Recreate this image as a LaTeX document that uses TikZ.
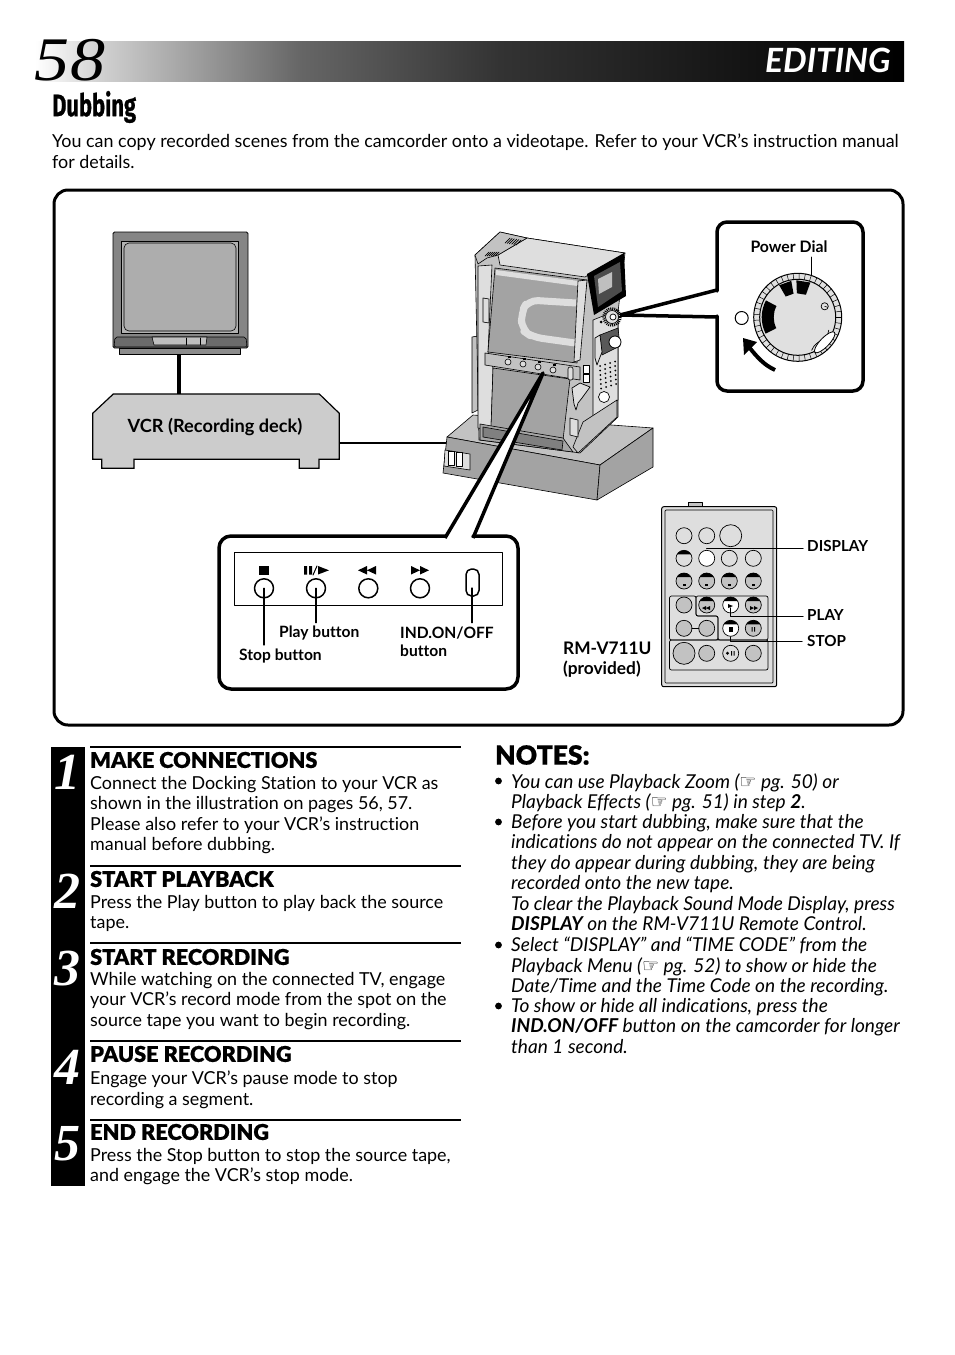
\documentclass[tikz,border=0pt]{standalone}
\usepackage{fontspec}
\setmainfont{Lato}[Ligatures=NoCommon]
\newfontfamily\headfont{Lato Black}[FakeBold=.6,Ligatures=NoCommon]
\newfontfamily\numfont{Liberation Serif}
\newfontfamily\dubfont{Fira Sans}[FakeBold=.8]
\newfontfamily\symfont{DejaVu Sans}
\pgfdeclarehorizontalshading{barshade}{100bp}{color(0bp)=(white); color(25bp)=(white); color(28.75bp)=(black!18); color(40.25bp)=(black!60); color(51.75bp)=(black!80); color(63.25bp)=(black!90); color(75bp)=(black); color(100bp)=(black)}
\colorlet{camlight}{black!13}
\colorlet{cammid}{black!24}
\colorlet{camdark}{black!36}
\newcommand{\btncap}[2]{\fill (#1-6.93,#2-4) arc (150:30:8pt)--cycle;}
\tikzset{
	bodytext/.style={anchor=north west,inner sep=0pt,align=left,font=\fontsize{17.9}{20.46}\selectfont},
	notetext/.style={bodytext,font=\fontsize{19.1}{20.46}\selectfont\itshape},
	headtext/.style={anchor=west,inner sep=0pt,font=\fontsize{21.7}{24}\headfont},
	numtext/.style={anchor=center,inner sep=0pt,text=white,font=\fontsize{52}{52}\numfont\bfseries\itshape},
	smalltext/.style={anchor=west,inner sep=0pt,align=left,font=\fontsize{15.6}{17.6}\selectfont\bfseries},
	thickline/.style={line width=3.5pt},
	cam/.style={draw,line width=.6pt,fill=#1},
	remotebtn/.style={draw,line width=.7pt,fill=#1}
}
\begin{document}
\begin{tikzpicture}[x=1pt,y=-1pt,line join=round,line cap=round]
	\useasboundingbox (0,0) rectangle (954,1355);
	\shade[shading=barshade] (35,41) rectangle (904,81);
	\node[anchor=center,inner sep=0pt,font=\fontsize{62}{62}\numfont\itshape] (pagenum) at (70,60) {\scalebox{1.13}[1]{58}};
	\node[anchor=east,inner sep=0pt,text=white,font=\fontsize{33.4}{36}\selectfont\itshape\bfseries] (editing) at (891,60) {EDITING};
	\node[anchor=west,inner sep=0pt,font=\fontsize{31}{33}\dubfont\bfseries] (dubbing) at (52,107) {\scalebox{.707}[1]{Dubbing}};
	\node[bodytext] (intro) at (52,134) {You can copy recorded scenes from the camcorder onto a videotape. Refer to your VCR’s instruction manual\\for details.};
	\draw[line width=3pt,rounded corners=14pt] (54,190) rectangle (903,725);
	\coordinate (TVcable) at (179,354);
	\coordinate (VCRtop) at (179,394);
	\coordinate (VCRright) at (339,443);
	\coordinate (Dockleft) at (447,443);
	\draw[line width=4.5pt,line cap=butt] (TVcable)--(VCRtop);
	\draw[line width=2.5pt,line cap=butt] (VCRright)--(Dockleft);
	\draw[line width=.8pt,fill=black!48,rounded corners=1.5pt] (113,232) rectangle (248,348);
	\draw[line width=.6pt,fill=black!30] (121,241) rectangle (238,333);
	\draw[line width=.6pt,fill=black!32,rounded corners=5pt] (124,243) rectangle (236,331);
	\draw[line width=.6pt,fill=black!58,rounded corners=2pt] (115,337)--(246,337)--(247,347)--(114,347)--cycle;
	\draw[line width=.6pt,fill=black!45] (119,348) rectangle (240,354);
	\draw[line width=.6pt,fill=black!25] (152,337)--(207,337)--(206,345)--(154,345)--cycle;
	\draw[line width=.6pt] (186,338)--(186,345) (200,338)--(200,345);
	\coordinate (VA) at (92.7,413.3);
	\coordinate (VB) at (113.3,394);
	\coordinate (VC) at (319.3,394);
	\coordinate (VD) at (339.3,413.3);
	\draw[line width=1.2pt,fill=black!20,line join=miter] (VA)--(VB)--(VC)--(VD)--(339.3,459.3)--(319,459.3)--(319,468.3)--(299.3,468.3)--(299.3,459.3)--(134,459.3)--(134,468.3)--(101.7,468.3)--(101.7,459.3)--(92.7,459.3)--cycle;
	\node[anchor=center,inner sep=0pt,font=\fontsize{18.2}{20}\selectfont\bfseries] (vcr) at (215,426.5) {VCR (Recording deck)};
	\coordinate (DA) at (447,437);
	\coordinate (DB) at (473,415);
	\coordinate (DC) at (653,428);
	\coordinate (DD) at (600,465);
	\coordinate (DE) at (443,473);
	\coordinate (DF) at (597,500);
	\coordinate (DG) at (653,467);
	\draw[cam=cammid] (DA)--(DB)--(DC)--(DD)--cycle;
	\draw[cam=camdark] (DA)--(DD)--(DF)--(DE)--cycle;
	\draw[cam=camdark] (DD)--(DC)--(DG)--(DF)--cycle;
	\draw[cam=camlight] (445,450)--(470,454)--(470,470)--(444,466)--cycle;
	\draw[line width=.5pt,fill=white] (448,451) rectangle (454,465) (456,452) rectangle (462,466);
	\draw[cam=cammid] (472,337)--(478,336)--(478,410)--(472,413)--cycle;
	\coordinate (CA) at (475,255);
	\coordinate (CB) at (500,232);
	\coordinate (CC) at (527,238);
	\coordinate (CD) at (625,253);
	\draw[cam=cammid] (CA)--(CB)--(CC)--(CD)--(618,312)--(618,417)--(580,453)--(573,452)--(479,440)--(476,300)--cycle;
	\draw[cam=camlight] (498,255)--(CC)--(CD)--(585,277)--(500,265)--cycle;
	\draw[cam=cammid] (CA)--(CB)--(CC)--(498,255)--(487,258)--(478,264)--cycle;
	\foreach \i in {0,...,5} \draw[line width=.7pt] (505+\i*2.2,243+\i*.4)--(510+\i*2.2,238+\i*.4);
	\foreach \i in {0,...,5} \draw[line width=.7pt] (485+\i*2,256)--(489+\i*2,252);
	\draw[cam=camlight] (478,266)--(492,265)--(488,352)--(493,368)--(491,430)--(478,428)--cycle;
	\draw[cam=camlight] (483,298)--(489,299)--(489,323)--(483,322)--cycle;
	\draw[cam=camdark] (495,268)--(587,280)--(577,363)--(488,352)--cycle;
	\fill[camlight] (496,270)--(586,282)--(585,287)--(496,275)--cycle;
	\draw[camlight,line width=7pt,line cap=butt,rounded corners=10pt] (576,303)--(528,300)--(521,313)--(522,330)--(532,337)--(575,343);
	\draw[cam=camlight] (578,281)--(587,280)--(580,360)--(574,362)--cycle;
	\draw[cam=camdark] (493,368)--(570,379)--(563,440)--(491,428)--cycle;
	\draw[cam=black!35] (480,424)--(563,438)--(573,452)--(480,440)--cycle;
	\draw[cam=black!50] (483,427)--(563,441)--(562,450)--(483,437)--cycle;
	\draw[cam=cammid] (485,353)--(580,367)--(580,380)--(485,365)--cycle;
	\foreach \bx/\by in {508/362,523/364,538/367,553/370} \draw[line width=.6pt,fill=camlight] (\bx,\by) circle (3pt);
	\foreach \bx/\by in {509/357,524/359,539/362,554/365} \fill (\bx-1.5,\by-1) rectangle (\bx+1.5,\by+1);
	\draw[line width=.6pt,fill=camlight,rounded corners=2pt] (568,367) rectangle (573,380);
	\draw[cam=camlight] (593,320)--(618,310)--(618,400)--(593,417)--cycle;
	\draw[cam=cammid] (583,422)--(617,400)--(617,417)--(578,453)--(573,447)--cycle;
	\draw[line width=.7pt,fill=camlight] (572,388)--(580,383)--(590,387)--(582,398)--(578,403)--(576,410)--(574,404)--cycle;
	\draw[line width=.6pt,fill=white] (583,365) rectangle (589,373) (583,374) rectangle (589,382);
	\draw[line width=.6pt,fill=camlight] (570,418)--(578,420)--(578,437)--(570,435)--cycle;
	\draw[cam=black!65] (600,335)--(618,328)--(620,346)--(602,355)--cycle;
	\draw[line width=.8pt,fill=white] (615,342) circle (6pt);
	\draw[line width=.7pt,fill=camlight] (595,338)--(600,335)--(602,352)--(597,365)--(595,358)--cycle;
	\foreach \i in {0,...,5} \foreach \j in {0,...,3} \fill (600+\j*5+\i*.2,366-\j*1.5+\i*4.5) circle (1pt);
	\draw[line width=.7pt,fill=white] (604,397) circle (5.5pt);
	\fill (601,322) circle (1.5pt);
	\fill (587,274)--(624,253)--(626,296)--(594,315)--cycle;
	\fill[black!70] (594,276)--(620,262)--(622,291)--(598,307)--cycle;
	\fill[black!25] (598,279)--(612,272)--(612,287)--(599,294)--cycle;
	\draw[line width=2.5pt,dash pattern=on 1pt off 1pt,line cap=butt] (612,317) circle (8.5pt);
	\draw[line width=.7pt,fill=camlight] (612,317) circle (6.5pt);
	\draw[line width=.7pt,fill=white] (613,317) circle (3pt);
	\coordinate (WedgeTip) at (543,373);
	\coordinate (WedgeL) at (445,538);
	\coordinate (WedgeR) at (473,538);
	\fill[white] (WedgeL)--(WedgeTip)--(WedgeR)--cycle;
	\draw[thickline,line cap=butt] (WedgeL)--(WedgeTip)--(WedgeR);
	\coordinate (PowerA) at (620,315);
	\coordinate (PowerB) at (717,290);
	\coordinate (PowerC) at (717,317);
	\draw[thickline,line cap=butt,line join=miter] (PowerA)--(PowerB) (PowerA)--(PowerC);
	\draw[thickline,rounded corners=10pt] (717,291)--(717,222)--(863,222)--(863,391)--(717,391)--(717,316);
	\node[anchor=center,inner sep=0pt,font=\fontsize{15.8}{17}\selectfont\bfseries] (powerdial) at (789,246.5) {Power Dial};
	\draw[line width=1pt] (811.7,257)--(811.7,281);
	\begin{scope}[shift={(797.7,317.3)},y=1pt]
		\draw[line width=1pt,fill=black!12] (0,0) circle (44pt);
		\foreach \a in {0,8,...,352} \draw[line width=.5pt] (\a:38)--(\a:44);
		\draw[line width=1pt,fill=black!12] (0,0) circle (38pt);
		\fill (100:24)--(100:37)--(120:37)--(120:24)--cycle;
		\fill (70:24)--(70:37)--(92:37)--(92:24)--cycle;
		\fill (152:36) arc (152:207:36)--(207:24) arc (207:152:24)--cycle;
		\draw[line width=.7pt] (27,11) circle (3.6pt);
		\draw[line width=.6pt] (27,11)--(30,10);
		\draw[line width=.7pt] (14,-33) .. controls (18,-22) and (30,-24) .. (31,-13);
		\draw[line width=.8pt,fill=white,rotate around={46:(27,-25)}] (27,-25) ellipse (14pt and 4.5pt);
	\end{scope}
	\draw[line width=1pt,fill=white] (741.7,318) circle (6.5pt);
	\coordinate (ArrowA) at (775,370);
	\coordinate (ArrowB) at (749,347);
	\draw[line width=4pt,line cap=butt] (ArrowA) .. controls (764,365) and (757,357) .. (ArrowB);
	\fill (743,338)--(757,342)--(744,355)--cycle;
	\draw[thickline,rounded corners=12pt] (445,536)--(219,536)--(219,689)--(518,689)--(518,536)--(473,536);
	\draw[line width=1pt] (234.3,552.7) rectangle (502.3,605.3);
	\foreach \cx/\nm in {264/Stop,316/Play,368.3/Rew,420/Ff} \draw[line width=1.5pt] (\cx,588.3) circle (9.5pt) coordinate (\nm);
	\draw[line width=1.5pt,rounded corners=5.5pt] (466,569) rectangle (479,596);
	\coordinate (Ind) at (472,588);
	\coordinate (StopEnd) at (264,645);
	\coordinate (PlayEnd) at (316,622.7);
	\coordinate (IndEnd) at (472,622.7);
	\draw[line width=1.3pt] (Stop)--(StopEnd) (Play)--(PlayEnd) (Ind)--(IndEnd);
	\fill (259,566) rectangle (269,574.5);
	\fill (304,566) rectangle (307,574.5) (309,566) rectangle (312,574.5);
	\draw[line width=1pt] (313,575)--(317,566);
	\fill (318,566)--(329,570.3)--(318,574.5)--cycle;
	\fill (358,570.3)--(367,566)--(367,574.5)--cycle (367,570.3)--(376,566)--(376,574.5)--cycle;
	\fill (411,566)--(420,570.3)--(411,574.5)--cycle (420,566)--(429,570.3)--(420,574.5)--cycle;
	\node[smalltext] (playbtn) at (279,633.5) {Play button};
	\node[smalltext] (stopbtn) at (239,656.5) {Stop button};
	\node[smalltext] (indbtn) at (400,642) {IND.ON/OFF\\button};
	\node[smalltext,font=\fontsize{17.3}{20}\selectfont\bfseries] (rmlabel) at (563,660) {RM-V711U\\(provided)};
	\draw[line width=.8pt,fill=cammid] (688,502) rectangle (702,507);
	\draw[line width=1pt,fill=camlight,rounded corners=2pt] (661.7,506.7) rectangle (776.7,686.7);
	\draw[line width=.7pt,rounded corners=1pt] (665,510) rectangle (773,683);
	\draw[line width=.7pt,rounded corners=2pt] (669.5,596)--(696,596)--(696,616)--(718,616)--(718,640)--(669.5,640)--cycle;
	\draw[line width=.7pt,rounded corners=2pt] (696,596)--(768,596)--(768,640)--(718,640)--(718,616)--(696,616)--cycle;
	\draw[line width=.7pt,rounded corners=2pt] (669.5,640) rectangle (768,670);
	\foreach \bx/\by/\br in {684/535.7/8,706.7/535.7/8,730.7/535.7/11,729.3/558.3/8,753.3/558.3/8} \draw[line width=.7pt] (\bx,\by) circle (\br pt);
	\draw[remotebtn=camlight] (684,558.3) circle (8pt);
	\btncap{684}{558.3}
	\draw[remotebtn=white] (706.7,558.3) circle (8pt);
	\foreach \bx in {684,706.7,729.3,753.3} {
		\draw[remotebtn=cammid] (\bx,581) circle (8pt);
		\btncap{\bx}{581}
		\fill (\bx-1.5,584) rectangle (\bx+1.5,585.5);
	}
	\draw[remotebtn=cammid] (684,605) circle (8pt);
	\draw[remotebtn=cammid] (706.7,605) circle (8pt);
	\btncap{706.7}{605}
	\draw[remotebtn=white] (730.7,605) circle (8pt);
	\btncap{730.7}{605}
	\draw[remotebtn=cammid] (753.3,605) circle (8pt);
	\btncap{753.3}{605}
	\draw[remotebtn=cammid] (684,628.3) circle (8pt);
	\draw[remotebtn=cammid] (706.7,628.3) circle (8pt);
	\draw[line width=1.3pt] (692,628.3)--(698.7,628.3);
	\draw[remotebtn=white] (730.7,628.3) circle (8pt);
	\btncap{730.7}{628.3}
	\fill (728.5,627) rectangle (733,631.5);
	\draw[remotebtn=cammid] (753.3,628.3) circle (8pt);
	\btncap{753.3}{628.3}
	\fill (751.5,627) rectangle (752.6,631.5) (754,627) rectangle (755.1,631.5);
	\draw[remotebtn=cammid] (684,653.3) circle (11pt);
	\draw[remotebtn=cammid] (706.7,653.3) circle (8pt);
	\draw[remotebtn=camlight] (730.7,653.3) circle (8pt);
	\draw[remotebtn=cammid] (753.3,653.3) circle (8pt);
	\fill (727.5,653.3) circle (1.6pt) (731,651) rectangle (732,655.5) (733.5,651) rectangle (734.5,655.5);
	\fill (728,604)--(728,608)--(733,606)--cycle;
	\fill (702,608)--(706,606)--(706,610)--cycle (706,608)--(710,606)--(710,610)--cycle;
	\fill (750,606)--(754,608)--(750,610)--cycle (754,606)--(758,608)--(754,610)--cycle;
	\coordinate (DispA) at (706.7,548.3);
	\coordinate (DispB) at (803,548.3);
	\coordinate (PlayA) at (730.7,608);
	\coordinate (PlayB) at (730.7,616.7);
	\coordinate (PlayC) at (803,616.7);
	\coordinate (StopA) at (730.7,637);
	\coordinate (StopB) at (730.7,641.7);
	\coordinate (StopC) at (802,641.7);
	\draw[line width=1.1pt] (DispA)--(DispB);
	\draw[line width=1.1pt] (PlayA)--(PlayB)--(PlayC);
	\draw[line width=1.3pt] (StopA)--(StopB)--(StopC);
	\node[smalltext,font=\fontsize{15.2}{17.6}\selectfont\bfseries] (display) at (807,546) {DISPLAY};
	\node[smalltext,font=\fontsize{15.2}{17.6}\selectfont\bfseries] (playlbl) at (807,615) {PLAY};
	\node[smalltext,font=\fontsize{15.2}{17.6}\selectfont\bfseries] (stoplbl) at (807,641) {STOP};
	\fill (51,747) rectangle (85,1186);
	\foreach \ny/\lab in {772/1,891/2,969/3,1067/4,1144/5} \node[numtext] (num\lab) at (67,\ny) {\lab};
	\foreach \ly in {747,866,943,1041,1120} \draw[line width=2pt,line cap=butt] (90,\ly)--(461,\ly);
	\node[headtext] (makeh) at (90,760) {MAKE CONNECTIONS};
	\node[bodytext] (maket) at (90,776) {Connect the Docking Station to your VCR as\\shown in the illustration on pages 56, 57.\\Please also refer to your VCR's instruction\\manual before dubbing.};
	\node[headtext] (playh) at (90,879) {START PLAYBACK};
	\node[bodytext] (playt) at (90,895) {Press the Play button to play back the source\\tape.};
	\node[headtext] (rech) at (90,957) {START RECORDING};
	\node[bodytext] (rect) at (90,972) {While watching on the connected TV, engage\\your VCR’s record mode from the spot on the\\source tape you want to begin recording.};
	\node[headtext] (pauseh) at (90,1054) {PAUSE RECORDING};
	\node[bodytext] (pauset) at (90,1071) {Engage your VCR’s pause mode to stop\\recording a segment.};
	\node[headtext] (endh) at (90,1132) {END RECORDING};
	\node[bodytext] (endt) at (90,1148) {Press the Stop button to stop the source tape,\\and engage the VCR’s stop mode.};
	\node[headtext,font=\fontsize{26.4}{30}\headfont] (notesh) at (495,755) {NOTES:};
	\foreach \by in {781,822,945,1006} \fill (498.5,\by) circle (3.4pt);
	\node[notetext] (noteone) at (511,773) {You can use Playback Zoom ({\symfont ☞} pg. 50) or\\Playback Effects ({\symfont ☞} pg. 51) in step \textbf{2}.};
	\node[notetext] (notetwo) at (511,814) {Before you start dubbing, make sure that the\\indications do not appear on the connected TV. If\\they do appear during dubbing, they are being\\recorded onto the new tape.\\To clear the Playback Sound Mode Display, press\\\textbf{DISPLAY} on the RM-V711U Remote Control.};
	\node[notetext] (notethree) at (511,937) {Select “DISPLAY” and “TIME CODE” from the\\Playback Menu ({\symfont ☞} pg. 52) to show or hide the\\Date/Time and the Time Code on the recording.};
	\node[notetext] (notefour) at (511,998) {To show or hide all indications, press the\\\textbf{IND.ON/OFF} button on the camcorder for longer\\than 1 second.};
\end{tikzpicture}
\end{document}
